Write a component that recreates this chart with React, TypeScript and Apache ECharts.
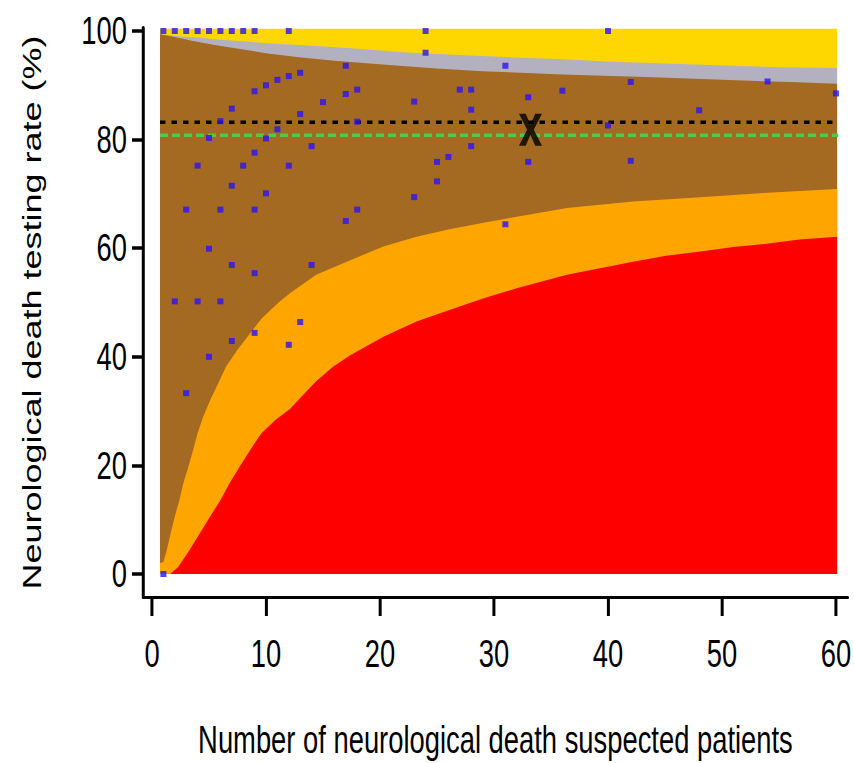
import React, { useEffect, useRef } from "react";
import * as echarts from "echarts";

// ---- axis ticks ----
const xTicks = [0, 10, 20, 30, 40, 50, 60];
const yTicks = [0, 20, 40, 60, 80, 100];

// ---- funnel boundaries: [n, rate %] ----
const plotTop: [number, number][] = [[0.7, 100.4], [60.1, 100.4]];
const upperOuter: [number, number][] = [
  [0.7, 99.4], [2.5, 99.0], [4, 98.8], [6, 98.4], [8, 98.1], [10.4, 97.7], [13, 97.4],
  [17.5, 96.8], [22, 96.1], [27, 95.6], [32, 95.1], [36, 94.8], [40, 94.4], [45, 94.0],
  [51, 93.6], [55.5, 93.3], [60.1, 93.2],
];
const upperInner: [number, number][] = [
  [0.7, 99.4], [2, 98.9], [3.5, 98.2], [5.5, 97.4], [8, 96.6], [10, 95.9], [12.7, 95.2],
  [16, 94.5], [20.5, 93.8], [25, 93.1], [29, 92.6], [36, 92.0], [44, 91.5], [50, 91.0],
  [56, 90.6], [60.1, 90.3],
];
const lowerInner: [number, number][] = [
  [0.7, 2.0], [1.0, 2.2], [1.3, 4.4], [1.64, 7.5], [2.0, 10.6], [2.4, 13.6], [2.75, 16.7],
  [3.2, 19.8], [3.6, 22.8], [4.0, 25.9], [4.5, 29.0], [5.1, 32.0], [5.8, 35.1], [6.5, 38.2],
  [7.5, 41.3], [8.6, 44.3], [9.6, 47.0], [10.4, 48.6], [11.2, 50.2], [12.1, 51.7],
  [14.4, 55.1], [17.4, 57.8], [20.3, 60.3], [23.2, 62.1], [26.1, 63.5], [29.1, 64.7],
  [32, 65.8], [36.4, 67.4], [42.2, 68.6], [48.1, 69.4], [54, 70.2], [60.1, 70.9],
];
const lowerOuter: [number, number][] = [
  [0.7, 0], [1.6, 0], [2.3, 1.3], [3.3, 4.4], [4.2, 7.5], [5.1, 10.6], [6.0, 13.6],
  [6.8, 16.7], [7.7, 19.8], [8.6, 22.8], [9.6, 25.9], [10.8, 28.3], [12.1, 30.4],
  [13, 32.4], [14.4, 35.5], [15.9, 38.2], [17.4, 40.3], [20.3, 43.7], [23.2, 46.5],
  [26.1, 48.6], [29.1, 50.8], [32, 52.6], [36.4, 55.1], [39.3, 56.3], [42.2, 57.5],
  [45.1, 58.6], [48.1, 59.4], [51, 60.2], [53.9, 60.8], [56.8, 61.6], [60.1, 62.1],
];

// ---- hospitals ----
const hospN = [
  1, 2, 3, 4, 5, 6, 7, 8, 9, 12, 24, 40,
  13, 11, 12, 10, 9, 15, 7, 13, 6, 11, 5, 10, 14, 9, 4, 8, 12, 7, 10, 3, 6, 9,
  5, 7, 9, 14, 2, 4, 6, 13, 9, 12, 7, 5, 3, 1,
  24, 17, 31, 18, 17, 23, 27, 28, 28, 33, 36, 18, 28, 25, 26, 33, 25, 23, 18, 17, 31,
  42, 54, 60, 48, 40, 42,
];
const hospRate = [
  100, 100, 100, 100, 100, 100, 100, 100, 100, 100, 100, 100,
  92.3, 91.0, 91.7, 90.0, 88.9, 86.9, 85.7, 84.7, 83.4, 81.9, 80.3, 80.2, 78.8, 77.6, 75.2, 75.2, 75.2, 71.5, 70.1, 67.1, 67.1, 67.1,
  59.9, 56.9, 55.4, 56.9, 50.2, 50.2, 50.2, 46.4, 44.4, 42.2, 42.9, 40.0, 33.3, 0,
  96.0, 93.6, 93.6, 89.2, 88.4, 87.0, 89.2, 89.2, 85.5, 87.8, 89.0, 83.3, 78.8, 75.9, 76.8, 75.9, 72.3, 69.4, 67.1, 65.0, 64.4,
  90.6, 90.7, 88.5, 85.4, 82.6, 76.1,
];

const meanRate = 83.2;
const greenRate = 80.8;
const highlighted: [number, number] = [33.2, 81.8];
const lineSpan = [0.7, 60.2];

// The reference typeface is condensed; the chart is drawn wider and squeezed horizontally.
const SQ = 0.72;
const PAGE_W = 854;
const PAGE_H = 763;
const px = (v: number) => v / SQ; // horizontal page pixels -> chart pixels

const FONT = "'Liberation Sans', Arial, Helvetica, sans-serif";

function band(top: [number, number][], color: string, z: number) {
  return {
    type: "custom",
    coordinateSystem: "cartesian2d",
    silent: true,
    z,
    data: [[top[0][0], 0]],
    renderItem: (_p: any, api: any) => {
      const pts = top.map((p) => api.coord(p));
      pts.push(api.coord([top[top.length - 1][0], 0]));
      pts.push(api.coord([top[0][0], 0]));
      return { type: "polygon", shape: { points: pts }, style: { fill: color } };
    },
  };
}

const xPath = "path://M0,0 L7,0 L12,11 L17,0 L24,0 L15.5,16 L24,32 L17,32 L12,21 L7,32 L0,32 L8.5,16 Z";

export default function App() {
  const ref = useRef<HTMLDivElement>(null);
  useEffect(() => {
    if (!ref.current) return;
    const chart = echarts.init(ref.current, undefined, { renderer: "svg" });
    chart.setOption({
      animation: false,
      backgroundColor: "#ffffff",
      grid: {
        left: px(143),
        right: px(6),
        top: 28,
        bottom: 166,
        containLabel: false,
        outerBoundsMode: "none",
      },
      xAxis: {
        type: "value",
        min: -0.79,
        max: 61.05,
        name: "Number of neurological death suspected patients",
        nameLocation: "middle",
        nameGap: 124,
        nameTextStyle: { fontFamily: FONT, fontSize: 38, color: "#000" },
        axisLine: { show: true, onZero: false, lineStyle: { color: "#000", width: 3 } },
        axisTick: { show: true, length: 19, lineStyle: { color: "#000", width: px(3) }, customValues: xTicks },
        axisLabel: { fontFamily: FONT, fontSize: 38, color: "#000", margin: 38, customValues: xTicks },
        splitLine: { show: false },
      },
      yAxis: {
        type: "value",
        min: -4.24,
        max: 100.55,
        name: "Neurological death testing rate (%)",
        nameLocation: "middle",
        nameGap: 136,
        nameTextStyle: { fontFamily: FONT, fontSize: 36, color: "#000" },
        axisLine: { show: true, onZero: false, lineStyle: { color: "#000", width: px(3) } },
        axisTick: { show: true, length: px(11), lineStyle: { color: "#000", width: 3.5 }, customValues: yTicks },
        axisLabel: { fontFamily: FONT, fontSize: 38, color: "#000", margin: px(16), customValues: yTicks },
        splitLine: { show: false },
      },
      series: [
        band(plotTop, "#FFD700", 1),
        band(upperOuter, "#B3B1BF", 2),
        band(upperInner, "#A46A22", 3),
        band(lowerInner, "#FFA500", 4),
        band(lowerOuter, "#FF0000", 5),
        {
          type: "line",
          z: 6,
          symbol: "none",
          silent: true,
          data: lineSpan.map((x) => [x, greenRate]),
          lineStyle: { color: "#4FC84F", width: 3.5, type: [px(8), px(4)] },
        },
        {
          type: "line",
          z: 7,
          symbol: "none",
          silent: true,
          data: lineSpan.map((x) => [x, meanRate]),
          lineStyle: { color: "#000", width: 3.5, type: [px(5.5), px(6)] },
        },
        {
          type: "scatter",
          z: 8,
          symbol: "rect",
          symbolSize: [px(6), 6],
          silent: true,
          itemStyle: { color: "#2A14F5" },
          data: hospN.map((n, i) => [n, hospRate[i]]),
        },
        {
          type: "scatter",
          z: 9,
          symbol: xPath,
          symbolSize: [px(23), 32],
          silent: true,
          itemStyle: { color: "#000" },
          data: [highlighted],
        },
      ],
    });
    return () => chart.dispose();
  }, []);
  return (
    <div style={{ position: "fixed", left: 0, top: 0, width: PAGE_W, height: PAGE_H, overflow: "hidden", background: "#fff" }}>
      <div
        ref={ref}
        style={{
          width: PAGE_W / SQ,
          height: PAGE_H,
          transform: `scaleX(${SQ})`,
          transformOrigin: "0 0",
        }}
      />
    </div>
  );
}
